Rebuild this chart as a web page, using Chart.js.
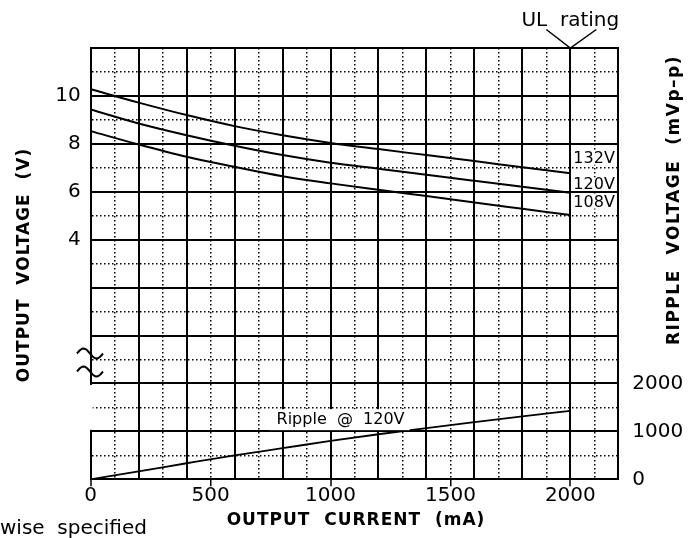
<!DOCTYPE html>
<html>
<head>
<meta charset="utf-8">
<script src="https://cdn.jsdelivr.net/npm/chart.js@4.4.1/dist/chart.umd.min.js"></script>
<style>
  html, body { margin: 0; padding: 0; background: #fff; }
  canvas { display: block; }
</style>
</head>
<body>
<canvas id="psuChart" width="700" height="538"></canvas>
<script>
// output current (mA), shared by all curves
const currents = [0, 200, 400, 600, 800, 1000, 1200, 1400, 1600, 1800, 2000];
// output voltage (V) at 132 / 120 / 108 V input
const volts132 = [10.28, 9.72, 9.20, 8.74, 8.36, 8.04, 7.78, 7.53, 7.28, 7.02, 6.77];
const volts120 = [9.43, 8.85, 8.36, 7.92, 7.53, 7.21, 6.96, 6.71, 6.46, 6.21, 5.96];
const volts108 = [8.53, 7.97, 7.46, 7.04, 6.65, 6.35, 6.08, 5.82, 5.55, 5.29, 5.03];
// ripple @ 120V (mVp-p)
const ripple120 = [0, 165, 335, 500, 650, 800, 940, 1070, 1195, 1315, 1430];

const bottomTickLabels = [0, 500, 1000, 1500, 2000];
const leftTickLabels = [4, 6, 8, 10];
const rightTickLabels = [0, 1000, 2000];
const curveLabels = ['132V', '120V', '108V'];
const curveLabelAt = [7.4, 6.32, 5.57];   // volts, where each label sits

const FONT = "'DejaVu Sans', sans-serif";
const toPoints = (ys) => currents.map((x, i) => ({ x: x, y: ys[i] }));

// solid line every 2nd step, dotted in between
const dotted = [1.5, 2.5];
const isMinor = (c, major) => c.tick && (Math.round(c.tick.value / major * 2) % 2 !== 0);

const annotations = {
    id: 'annotations',
    afterDatasetsDraw(chart) {
        const { ctx, scales } = chart;
        const xs = scales.x, yv = scales.y, yr = scales.yRipple;
        ctx.save();
        ctx.font = '16px ' + FONT;
        ctx.textBaseline = 'middle';

        // 132V / 120V / 108V labels right of the 2000 mA line
        curveLabels.forEach((txt, i) => {
            const left = xs.getPixelForValue(2000) + 2;
            const cy = yv.getPixelForValue(curveLabelAt[i]);
            const w = ctx.measureText(txt).width;
            ctx.fillStyle = '#fff';
            ctx.fillRect(left, cy - 6.5, w + 1.5, 13);
            ctx.fillStyle = '#000';
            ctx.fillText(txt, left + 1, cy + 1);
        });

        // ripple label
        const rTxt = 'Ripple  @  120V';
        const rLeft = xs.getPixelForValue(775);
        const rCy = yr.getPixelForValue(1255);
        const rW = ctx.measureText(rTxt).width;
        ctx.fillStyle = '#fff';
        ctx.fillRect(rLeft - 7, rCy - 10, rW + 12, 21);
        ctx.fillStyle = '#000';
        ctx.fillText(rTxt, rLeft, rCy + 1);
        ctx.restore();
    },
    afterDraw(chart) {
        const { ctx, chartArea, scales } = chart;
        const spacing = (px) => { if ('letterSpacing' in ctx) ctx.letterSpacing = px + 'px'; };
        ctx.save();
        ctx.fillStyle = '#000';
        ctx.strokeStyle = '#000';

        // axis titles
        ctx.font = 'bold 17px ' + FONT;
        ctx.textAlign = 'center';
        ctx.textBaseline = 'middle';
        spacing(1);
        ctx.fillText('OUTPUT  CURRENT  (mA)', 356, 521);

        ctx.save();
        ctx.translate(25, 265);
        ctx.rotate(-Math.PI / 2);
        ctx.fillText('OUTPUT  VOLTAGE  (V)', 0, 0);
        ctx.restore();

        spacing(1.5);
        ctx.save();
        ctx.translate(675, 200);
        ctx.rotate(-Math.PI / 2);
        ctx.fillText('RIPPLE  VOLTAGE  (mVp\u2013p)', 0, 0);
        ctx.restore();
        spacing(0);

        // UL rating marker
        const ulX = scales.x.getPixelForValue(2000);
        ctx.font = '20px ' + FONT;
        ctx.textBaseline = 'alphabetic';
        ctx.fillText('UL  rating', ulX, 26);
        ctx.lineWidth = 1.5;
        ctx.beginPath();
        ctx.moveTo(ulX - 24, 29.5);
        ctx.lineTo(ulX, chartArea.top);
        ctx.lineTo(ulX + 26, 29.5);
        ctx.stroke();

        // footnote (cut off at the left edge)
        ctx.textAlign = 'left';
        ctx.fillText('wise  specified', 0, 534);

        // axis break on the voltage axis
        const yv = scales.y;
        const gapTop = yv.getPixelForValue(-2) + 1.5;
        const gapBot = yv.getPixelForValue(-4) - 1.5;
        ctx.fillStyle = '#fff';
        ctx.fillRect(chartArea.left - 2, gapTop, 4, gapBot - gapTop);
        ctx.lineWidth = 2;
        [353.5, 371.5].forEach((cy) => {
            ctx.beginPath();
            for (let t = 0; t <= 1.0001; t += 0.05) {
                const px = 77 + 26 * t;
                const py = cy - 5 * Math.sin(2 * Math.PI * t);
                if (t === 0) ctx.moveTo(px, py); else ctx.lineTo(px, py);
            }
            ctx.stroke();
        });
        ctx.restore();
    }
};

const lineStyle = {
    borderColor: '#000',
    borderWidth: 2,
    pointRadius: 0,
    fill: false,
    cubicInterpolationMode: 'monotone'
};

new Chart(document.getElementById('psuChart').getContext('2d'), {
    type: 'line',
    data: {
        datasets: [
            { label: '132V', data: toPoints(volts132), yAxisID: 'y', ...lineStyle },
            { label: '120V', data: toPoints(volts120), yAxisID: 'y', ...lineStyle },
            { label: '108V', data: toPoints(volts108), yAxisID: 'y', ...lineStyle },
            { label: 'Ripple @ 120V', data: toPoints(ripple120), yAxisID: 'yRipple', ...lineStyle, borderWidth: 1.8 }
        ]
    },
    options: {
        responsive: false,
        animation: false,
        layout: { padding: { top: 48, left: 0, right: 0, bottom: 0 } },
        plugins: {
            legend: { display: false },
            tooltip: { enabled: false }
        },
        scales: {
            x: {
                type: 'linear',
                position: 'bottom',
                min: 0,
                max: 2200,
                afterFit: (s) => { s.height = 58.7; },
                ticks: {
                    stepSize: 100,
                    autoSkip: false,
                    maxRotation: 0,
                    padding: -3,
                    color: '#000',
                    font: { family: FONT, size: 20 },
                    callback: (v) => bottomTickLabels.includes(v) ? String(v) : ''
                },
                grid: {
                    color: '#000',
                    lineWidth: (c) => isMinor(c, 200) ? 1.5 : 2,
                    tickLength: 7,
                    tickWidth: 1.5,
                    tickColor: (c) => bottomTickLabels.includes(c.tick.value) ? '#000' : 'rgba(0,0,0,0)'
                },
                border: { display: true, color: '#000', width: 2, dash: (c) => isMinor(c, 200) ? dotted : [] }
            },
            y: {
                position: 'left',
                min: -6,
                max: 12,
                afterFit: (s) => { s.width = 90.7; },
                ticks: {
                    stepSize: 1,
                    autoSkip: false,
                    padding: 10,
                    color: '#000',
                    font: { family: FONT, size: 20 },
                    callback: (v) => leftTickLabels.includes(v) ? String(v) : ''
                },
                grid: {
                    color: '#000',
                    lineWidth: (c) => isMinor(c, 2) ? 1.5 : 2,
                    drawTicks: false
                },
                border: { display: true, color: '#000', width: 2, dash: (c) => isMinor(c, 2) ? dotted : [] }
            },
            yRipple: {
                position: 'right',
                min: 0,
                max: 9000,
                afterFit: (s) => { s.width = 81.7; },
                ticks: {
                    stepSize: 1000,
                    autoSkip: false,
                    padding: 14,
                    color: '#000',
                    font: { family: FONT, size: 20 },
                    callback: (v) => rightTickLabels.includes(v) ? String(v) : ''
                },
                grid: { drawOnChartArea: false, drawTicks: false },
                border: { display: true, color: '#000', width: 2 }
            }
        }
    },
    plugins: [annotations]
});
</script>
</body>
</html>
